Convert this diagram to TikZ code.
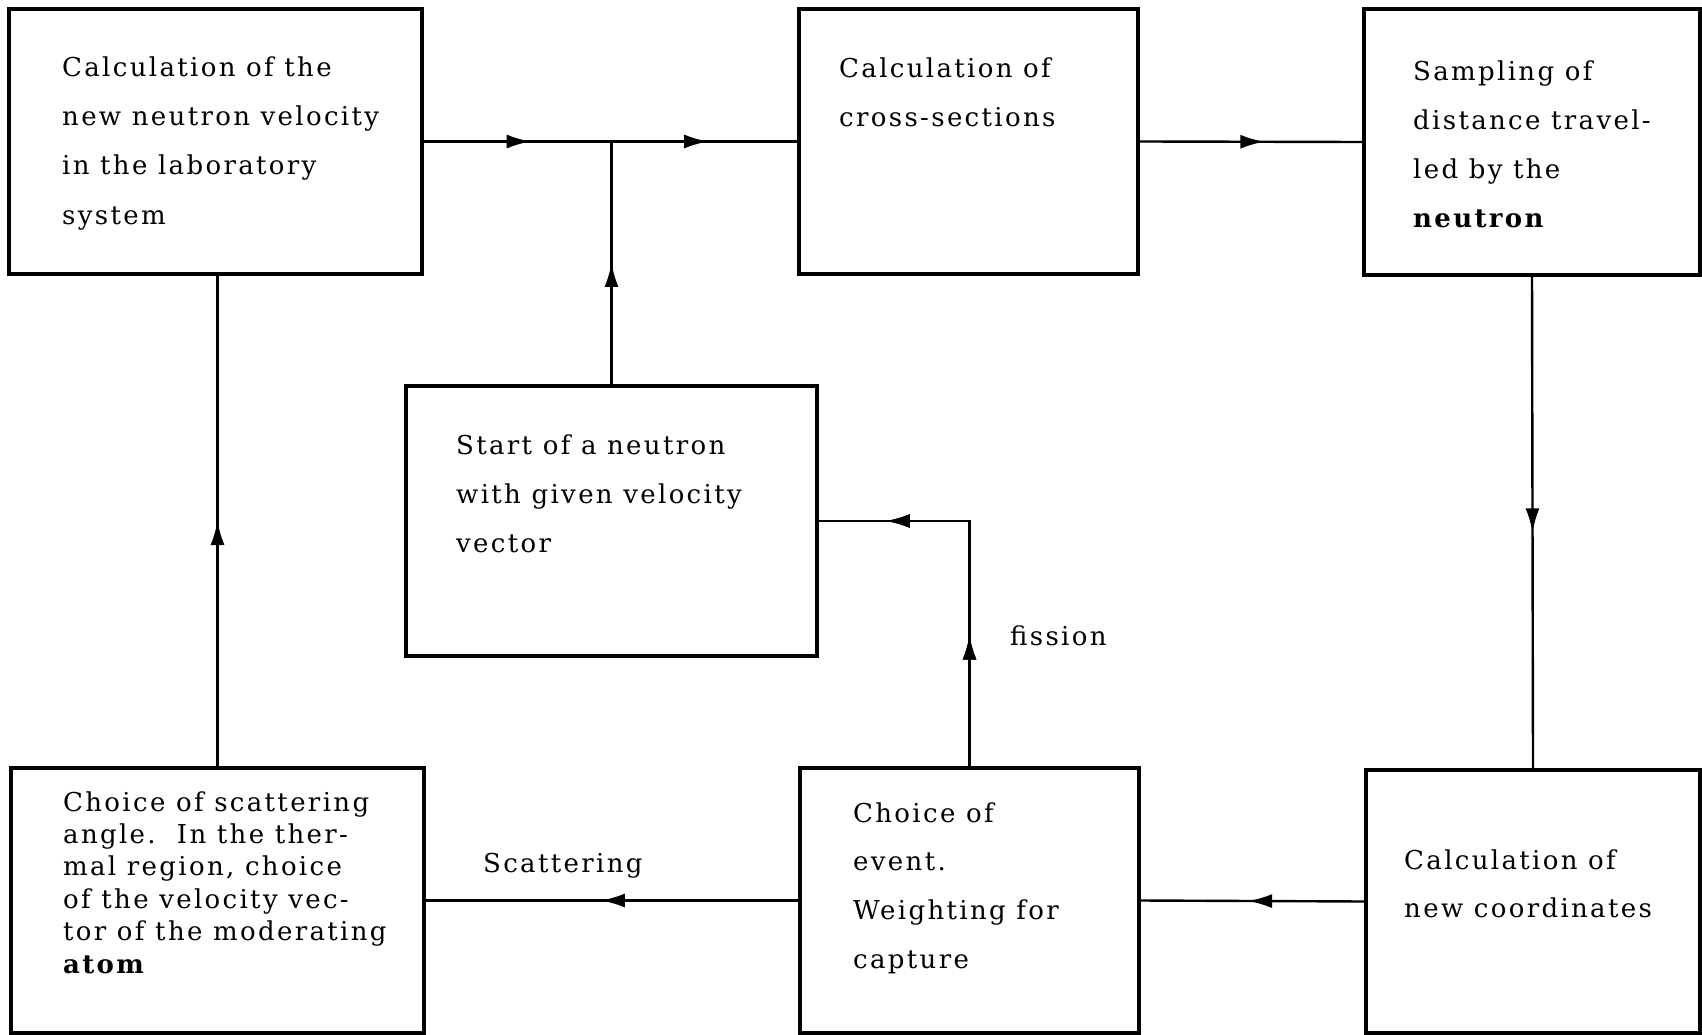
\documentclass[tikz,border=0pt]{standalone}
\usepackage{fontspec}
\setmainfont{DejaVu Serif}[LetterSpace=9]
\usetikzlibrary{positioning, arrows.meta, decorations.markings, calc}

\begin{document}
\begin{tikzpicture}[x=1pt, y=-1pt,
  blk/.style={draw, line width=3.2pt, inner sep=0pt},
  txt/.style={anchor=base west, align=left, inner sep=0pt, font=\fontsize{26}{49}\selectfont},
  wire/.style={line width=2.4pt},
  flow/.style={postaction={decorate}, decoration={markings,
    mark=at position #1 with {\arrow{Latex[length=24pt,width=14pt]}}}}]
\useasboundingbox (0,0) rectangle (1702,1035);

% Top row
\node[blk, minimum width=413pt, minimum height=265pt] (lab) at (215.5,141.5) {};
\node[blk, minimum width=339pt, minimum height=265pt] (xs) at (968.5,141.5) {};
\node[blk, minimum width=336pt, minimum height=266pt] (dist) at (1532,142) {};
% Middle
\node[blk, minimum width=411pt, minimum height=270pt] (start) at (611.5,521) {};
% Bottom row
\node[blk, minimum width=413pt, minimum height=265pt] (angle) at (217.5,900.5) {};
\node[blk, minimum width=339pt, minimum height=265pt] (event) at (969.5,900.5) {};
\node[blk, minimum width=334pt, minimum height=263pt] (coord) at (1533,901.5) {};

% Texts (anchored on the last line)
\node[txt] (labtxt) at (62,224) {Calculation of the\\new neutron velocity\\in the laboratory\\system};
\node[txt] (xstxt) at (839,127) {Calculation of\\cross-sections};
\node[txt] (disttxt) at (1413,228) {Sampling of\\distance travel-\\led by the\\\textbf{neutron}};
\node[txt] (starttxt) at (456,552) {Start of a neutron\\with given velocity\\vector};
\node[txt, font=\fontsize{26}{32.4}\selectfont] (angletxt) at (63,973)
  {Choice of scattering\\angle.\ \ In the ther-\\mal region, choice\\of the velocity vec-\\tor of the moderating\\\textbf{atom}};
\node[txt, font=\fontsize{26}{48.6}\selectfont] (eventtxt) at (853,968) {Choice of\\event.\\Weighting for\\capture};
\node[txt, font=\fontsize{26}{48}\selectfont] (coordtxt) at (1404,917) {Calculation of\\new coordinates};
\node[txt] (scat) at (483,872) {Scattering};
\node[txt] (fis) at (1010,645) {fission};

% Connectors
\coordinate (join) at (start.north |- lab.east);
\draw[wire, flow=0.57] (lab.east) -- (join);
\draw[wire, flow=0.52] (join) -- (xs.west);
\draw[wire, flow=0.5] (start.north) -- (join);
\draw[wire, flow=0.56] (xs.east) -- (dist.west);
\draw[wire, flow=0.52] (dist.south) -- (coord.north);
\draw[wire, flow=0.52] (coord.west) -- (event.east);
\draw[wire, flow=0.53] (event.west) -- (angle.east);
\draw[wire, flow=0.33, flow=0.83] (event.north) |- (start.east);
\draw[wire, flow=0.5] (angle.north) -- (angle.north |- lab.south);
\end{tikzpicture}
\end{document}
